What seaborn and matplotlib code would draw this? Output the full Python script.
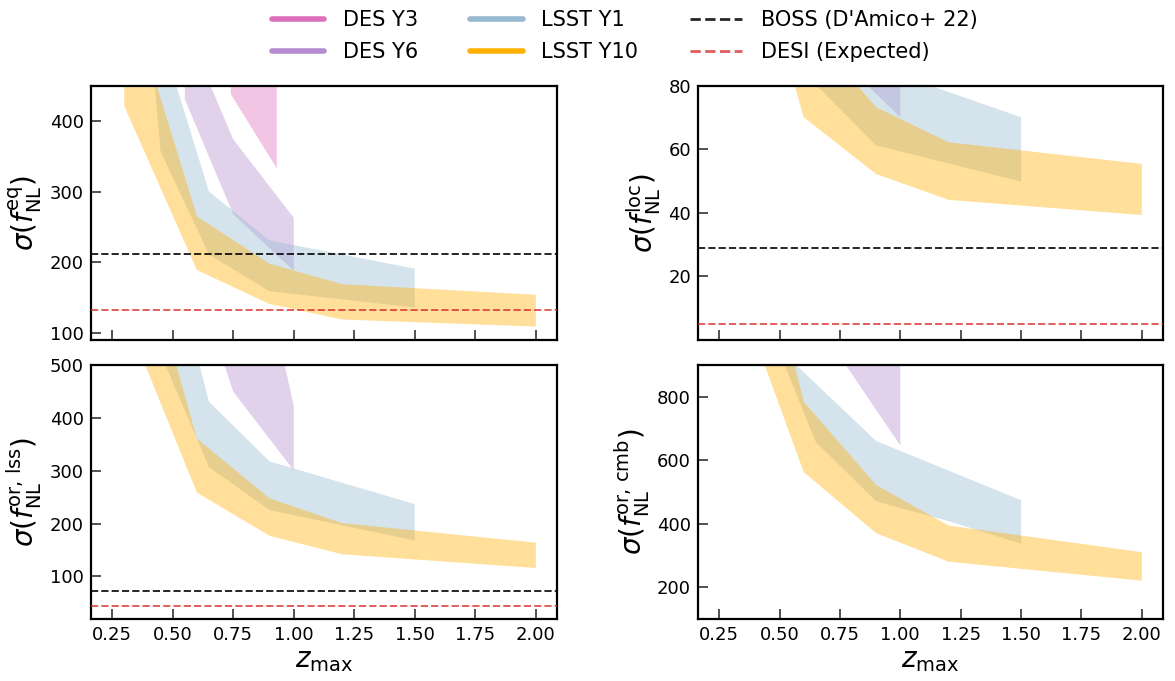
import numpy as np
import matplotlib
matplotlib.use("Agg")
import matplotlib.pyplot as plt
import seaborn as sns
from matplotlib.lines import Line2D

sns.set_theme(style="ticks")
plt.rcParams['font.family'] = ['DejaVu Sans']
plt.rcParams['mathtext.fontset'] = 'dejavusans'
for key in ['text.color', 'axes.labelcolor', 'xtick.color', 'ytick.color', 'axes.edgecolor']:
    plt.rcParams[key] = 'black'

# ---------------- data ----------------
survey_names = ["DES Y3", "DES Y6", "LSST Y1", "LSST Y10"]
survey_colors = ["#DE70BB", "#B48CCF", "#98B9D2", "#FFB000"]
ref_names = ["BOSS (D'Amico+ 22)", "DESI (Expected)"]
xticks = [0.25, 0.50, 0.75, 1.00, 1.25, 1.50, 1.75, 2.00]

# --- sigma(f_NL^eq)
eq_y3_z_lo, eq_y3_lo = [0.74, 0.93], [438, 333]
eq_y3_z_hi, eq_y3_hi = [0.74, 0.93], [600, 560]
eq_y6_z_lo, eq_y6_lo = [0.55, 0.75, 1.0], [431, 268, 188]
eq_y6_z_hi, eq_y6_hi = [0.55, 0.75, 1.0], [535, 374, 263]
eq_l1_z_lo, eq_l1_lo = [0.40, 0.45, 0.65, 0.9, 1.5], [550, 357, 211, 159, 136]
eq_l1_z_hi, eq_l1_hi = [0.40, 0.65, 0.9, 1.5], [578, 300, 231, 191]
eq_l10_z_lo, eq_l10_lo = [0.3, 0.6, 0.9, 1.2, 2.0], [421, 189, 141, 119, 109]
eq_l10_z_hi, eq_l10_hi = [0.3, 0.6, 0.9, 1.2, 2.0], [600, 265, 198, 169, 154]
eq_refs = [212, 132]

# --- sigma(f_NL^loc)
loc_y6_z_lo, loc_y6_lo = [0.55, 0.75, 1.0], [110, 88.4, 70.1]
loc_y6_z_hi, loc_y6_hi = [0.55, 0.75, 1.0], [160, 130, 110]
loc_l1_z_lo, loc_l1_lo = [0.5, 0.65, 0.9, 1.5], [100, 80.4, 61.2, 49.8]
loc_l1_z_hi, loc_l1_hi = [0.5, 0.9, 1.5], [120, 85.9, 70.1]
loc_l10_z_lo, loc_l10_lo = [0.5, 0.6, 0.9, 1.2, 2.0], [96.9, 70.1, 52.2, 44.1, 39.3]
loc_l10_z_hi, loc_l10_hi = [0.5, 0.6, 0.9, 1.2, 2.0], [108.5, 99.7, 73.2, 62.2, 55.4]
loc_refs = [29, 5]

# --- sigma(f_NL^{or,lss})
lss_y6_z_lo, lss_y6_lo = [0.55, 0.75, 1.0], [728, 450, 301]
lss_y6_z_hi, lss_y6_hi = [0.55, 0.75, 1.0], [1500, 940, 423]
lss_l1_z_lo, lss_l1_lo = [0.45, 0.65, 0.9, 1.5], [522, 307, 226, 168]
lss_l1_z_hi, lss_l1_hi = [0.45, 0.65, 0.9, 1.5], [785, 431, 318, 237]
lss_l10_z_lo, lss_l10_lo = [0.3, 0.6, 0.9, 1.2, 2.0], [598, 259, 177, 142, 116]
lss_l10_z_hi, lss_l10_hi = [0.3, 0.6, 0.9, 1.2, 2.0], [851, 361, 248, 201, 164]
lss_refs = [72, 45]

# --- sigma(f_NL^{or,cmb})
cmb_y6_z_lo, cmb_y6_lo = [0.75, 1.0], [928, 647]
cmb_y6_z_hi, cmb_y6_hi = [0.75, 1.0], [1500, 1200]
cmb_l1_z_lo, cmb_l1_lo = [0.5, 0.65, 0.9, 1.2, 1.5], [941, 658, 471, 408, 337]
cmb_l1_z_hi, cmb_l1_hi = [0.45, 0.9, 1.5], [987, 661, 474]
cmb_l10_z_lo, cmb_l10_lo = [0.3, 0.6, 0.9, 1.2, 2.0], [1191, 563, 370, 280, 220]
cmb_l10_z_hi, cmb_l10_hi = [0.3, 0.6, 0.9, 1.2, 2.0], [1717, 785, 522, 394, 310]
cmb_refs = None

panel_labels = [r'$\sigma(f_{\rm NL}^{\rm eq})$', r'$\sigma(f_{\rm NL}^{\rm loc})$',
                r'$\sigma(f_{\rm NL}^{\rm or,\,lss})$', r'$\sigma(f_{\rm NL}^{\rm or,\,cmb})$']
panel_ylims = [(90, 450), (0, 80), (20, 500), (100, 900)]
panel_yticks = [[100, 200, 300, 400], [20, 40, 60, 80],
                [100, 200, 300, 400, 500], [200, 400, 600, 800]]

panels = [
    {"bands": [(eq_y3_z_lo, eq_y3_lo, eq_y3_z_hi, eq_y3_hi, 0),
               (eq_y6_z_lo, eq_y6_lo, eq_y6_z_hi, eq_y6_hi, 1),
               (eq_l1_z_lo, eq_l1_lo, eq_l1_z_hi, eq_l1_hi, 2),
               (eq_l10_z_lo, eq_l10_lo, eq_l10_z_hi, eq_l10_hi, 3)],
     "refs": eq_refs},
    {"bands": [(loc_y6_z_lo, loc_y6_lo, loc_y6_z_hi, loc_y6_hi, 1),
               (loc_l1_z_lo, loc_l1_lo, loc_l1_z_hi, loc_l1_hi, 2),
               (loc_l10_z_lo, loc_l10_lo, loc_l10_z_hi, loc_l10_hi, 3)],
     "refs": loc_refs},
    {"bands": [(lss_y6_z_lo, lss_y6_lo, lss_y6_z_hi, lss_y6_hi, 1),
               (lss_l1_z_lo, lss_l1_lo, lss_l1_z_hi, lss_l1_hi, 2),
               (lss_l10_z_lo, lss_l10_lo, lss_l10_z_hi, lss_l10_hi, 3)],
     "refs": lss_refs},
    {"bands": [(cmb_y6_z_lo, cmb_y6_lo, cmb_y6_z_hi, cmb_y6_hi, 1),
               (cmb_l1_z_lo, cmb_l1_lo, cmb_l1_z_hi, cmb_l1_hi, 2),
               (cmb_l10_z_lo, cmb_l10_lo, cmb_l10_z_hi, cmb_l10_hi, 3)],
     "refs": cmb_refs},
]

ref_colors = ["black", "#d62728"]
ref_alpha = [0.85, 0.75]

# ---------------- figure ----------------
W, H = 1175, 681
fig = plt.figure(figsize=(W / 100, H / 100), dpi=100)
col_left = [91 / W, 698 / W]
col_w = [466 / W, 465 / W]
row_bot = [1 - 340 / H, 1 - 618.7 / H]
row_h = [254.3 / H, 253.4 / H]

for i, p in enumerate(panels):
    r, c = divmod(i, 2)
    ax = fig.add_axes([col_left[c], row_bot[r], col_w[c], row_h[r]])
    for zlo, lo, zhi, hi, k in p["bands"]:
        xs = np.concatenate([np.asarray(zlo, float), np.asarray(zhi, float)[::-1]])
        ys = np.concatenate([np.asarray(lo, float), np.asarray(hi, float)[::-1]])
        ax.fill(xs, ys, color=survey_colors[k], alpha=0.4, lw=0)
    if p["refs"] is not None:
        for j, v in enumerate(p["refs"]):
            ax.axhline(v, color=ref_colors[j], ls='--', lw=1.4, alpha=ref_alpha[j], zorder=3)
    ax.set_xlim(0.1625, 2.0875)
    ax.set_ylim(*panel_ylims[i])
    ax.set_yticks(panel_yticks[i])
    ax.set_xticks(xticks)
    if r == 1:
        ax.set_xticklabels([f"{t:.2f}" for t in xticks])
        ax.set_xlabel(r'$z_{\rm max}$', fontsize=20, labelpad=2)
    else:
        ax.set_xticklabels([])
    ax.set_ylabel(panel_labels[i], fontsize=20, labelpad=4)
    ax.tick_params(direction='in', length=7, width=1.1, labelsize=13, color='#222222',
                   labelcolor='black', top=False, right=False, pad=5)
    for s in ax.spines.values():
        s.set_linewidth(1.6)
        s.set_color('black')

handles = [Line2D([], [], color=survey_colors[k], lw=4) for k in range(4)]
handles += [Line2D([], [], color=ref_colors[j], ls='--', lw=2, alpha=ref_alpha[j]) for j in range(2)]
labels = survey_names + ref_names
fig.legend(handles, labels, loc='upper center', bbox_to_anchor=(0.532, 1.013), ncol=3,
           frameon=False, fontsize=15, handlelength=2.5, columnspacing=2.5,
           handletextpad=0.9, labelspacing=0.6)

fig.savefig("out.png", dpi=100)
